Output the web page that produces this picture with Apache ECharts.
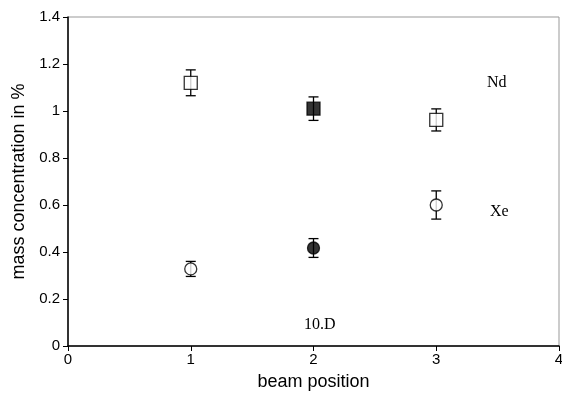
<!DOCTYPE html>
<html><head><meta charset="utf-8">
<script src="https://cdn.jsdelivr.net/npm/echarts@6/dist/echarts.min.js"></script>
<style>html,body{margin:0;padding:0;background:#fff}#c{width:562px;height:396px}</style>
</head><body><div id="c"></div>
<script>
const positions = [1, 2, 3];
const ndValues = [1.12, 1.01, 0.962];
const ndErrors = [0.055, 0.05, 0.047];
const xeValues = [0.328, 0.417, 0.6];
const xeErrors = [0.032, 0.04, 0.06];
const filledIndex = 1;

const chart = echarts.init(document.getElementById('c'), null, {renderer: 'canvas'});

function pts(vals) { return positions.map((p, i) => [p, vals[i]]); }
function errData(vals, errs) { return positions.map((p, i) => [p, vals[i] - errs[i], vals[i] + errs[i]]); }

function errRender(params, api) {
  const x = api.value(0);
  const lo = api.coord([x, api.value(1)]);
  const hi = api.coord([x, api.value(2)]);
  const hw = 5;
  const st = {stroke: '#000', lineWidth: 1.3};
  return {type: 'group', children: [
    {type: 'line', shape: {x1: lo[0], y1: lo[1], x2: hi[0], y2: hi[1]}, style: st},
    {type: 'line', shape: {x1: lo[0] - hw, y1: lo[1], x2: lo[0] + hw, y2: lo[1]}, style: st},
    {type: 'line', shape: {x1: hi[0] - hw, y1: hi[1], x2: hi[0] + hw, y2: hi[1]}, style: st}
  ]};
}

function markerData(vals) {
  return pts(vals).map((d, i) => ({value: d, itemStyle: {color: i === filledIndex ? '#000' : '#fff'}}));
}

chart.setOption({
  animation: false,
  grid: {left: 68, right: 3, top: 17, bottom: 50, show: true, borderColor: '#999', borderWidth: 1,
    outerBoundsMode: 'none', containLabel: false},
  xAxis: {
    type: 'value', min: 0, max: 4, interval: 1,
    name: 'beam position', nameLocation: 'middle', nameGap: 27,
    nameTextStyle: {fontFamily: 'Liberation Sans', fontSize: 18, color: '#000'},
    axisLine: {show: true, lineStyle: {color: '#000', width: 1.5}},
    axisTick: {show: true, length: 5, lineStyle: {color: '#000'}},
    axisLabel: {fontFamily: 'Liberation Sans', fontSize: 15, color: '#000', margin: 6},
    splitLine: {show: false}
  },
  yAxis: {
    type: 'value', min: 0, max: 1.4, interval: 0.2,
    name: 'mass concentration in %', nameLocation: 'middle', nameGap: 40,
    nameTextStyle: {fontFamily: 'Liberation Sans', fontSize: 18, color: '#000'},
    axisLine: {show: true, lineStyle: {color: '#000', width: 1.5}},
    axisTick: {show: true, length: 5, lineStyle: {color: '#000'}},
    axisLabel: {fontFamily: 'Liberation Sans', fontSize: 15, color: '#000', margin: 8,
      formatter: v => String(Math.round(v * 10) / 10)},
    splitLine: {show: false}
  },
  series: [
    {type: 'custom', renderItem: errRender, data: errData(ndValues, ndErrors), z: 2, encode: {x: 0, y: [1, 2]}},
    {type: 'custom', renderItem: errRender, data: errData(xeValues, xeErrors), z: 2, encode: {x: 0, y: [1, 2]}},
    {type: 'scatter', symbol: 'rect', symbolSize: 13, data: markerData(ndValues), z: 3,
      itemStyle: {borderColor: '#000', borderWidth: 1.3}},
    {type: 'scatter', symbol: 'circle', symbolSize: 12, data: markerData(xeValues), z: 3,
      itemStyle: {borderColor: '#000', borderWidth: 1.3}}
  ],
  graphic: [
    {type: 'text', left: 487, top: 75, style: {text: 'Nd', font: '16px "Liberation Serif"', fill: '#000'}},
    {type: 'text', left: 490, top: 204, style: {text: 'Xe', font: '16px "Liberation Serif"', fill: '#000'}},
    {type: 'text', left: 304, top: 317, style: {text: '10.D', font: '16px "Liberation Serif"', fill: '#000'}}
  ]
});
</script></body></html>
